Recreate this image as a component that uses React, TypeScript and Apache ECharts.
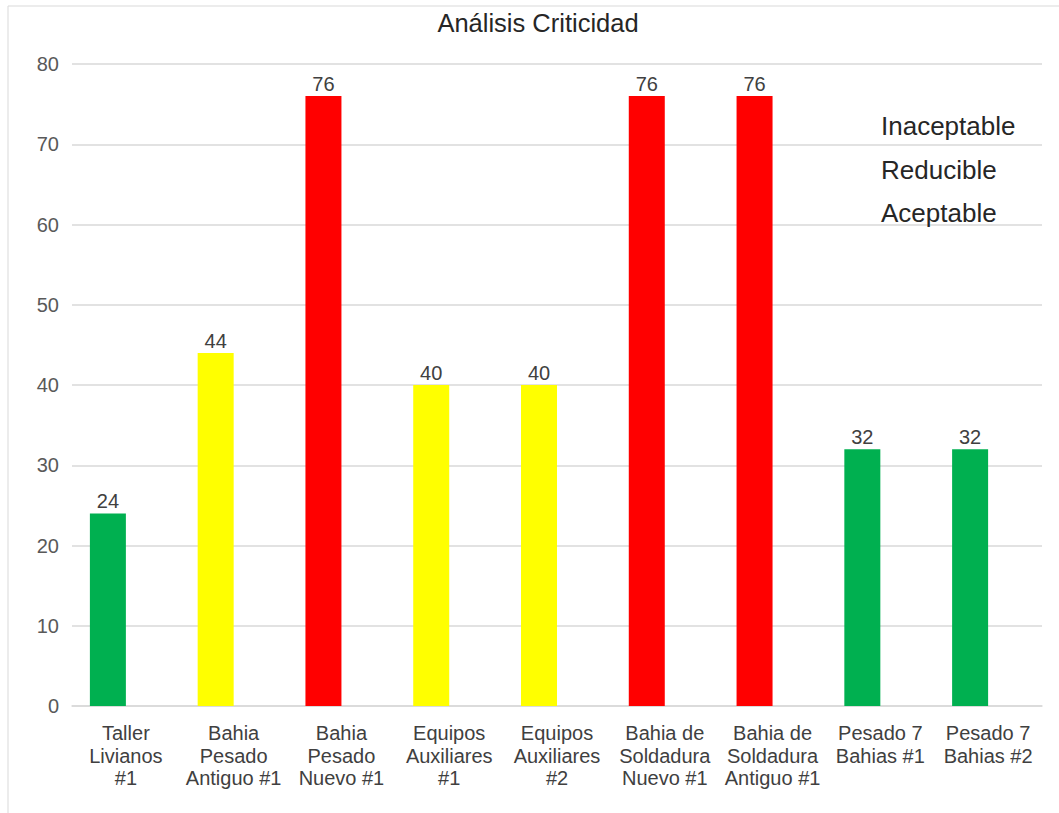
import React, { useEffect, useRef } from "react";
import * as echarts from "echarts";

const categories = [
  "Taller\nLivianos\n#1",
  "Bahia\nPesado\nAntiguo #1",
  "Bahia\nPesado\nNuevo #1",
  "Equipos\nAuxiliares\n#1",
  "Equipos\nAuxiliares\n#2",
  "Bahia de\nSoldadura\nNuevo #1",
  "Bahia de\nSoldadura\nAntiguo #1",
  "Pesado 7\nBahias #1",
  "Pesado 7\nBahias #2",
];
const values = [24, 44, 76, 40, 40, 76, 76, 32, 32];
const levels = [
  "Aceptable",
  "Reducible",
  "Inaceptable",
  "Reducible",
  "Reducible",
  "Inaceptable",
  "Inaceptable",
  "Aceptable",
  "Aceptable",
];
const legendNames = ["Inaceptable", "Reducible", "Aceptable"];
const levelColors: Record<string, string> = {
  Inaceptable: "#FF0000",
  Reducible: "#FFFF00",
  Aceptable: "#00B050",
};
const yTicks = { min: 0, max: 80, interval: 10 };

const FONT = "'Liberation Sans', Arial, sans-serif";

export default function App() {
  const ref = useRef<HTMLDivElement>(null);
  useEffect(() => {
    if (!ref.current) return;
    const chart = echarts.init(ref.current, null, { renderer: "svg" });
    chart.setOption({
      animation: false,
      backgroundColor: "#ffffff",
      textStyle: { fontFamily: FONT },
      title: {
        text: "Análisis Criticidad",
        left: 538,
        top: 10,
        padding: 0,
        textAlign: "center",
        textStyle: { fontSize: 25.5, fontWeight: "normal", color: "#262626", fontFamily: FONT },
      },
      graphic: [
        {
          type: "rect",
          shape: { x: 8, y: 6, width: 1200, height: 1000 },
          style: { fill: "none", stroke: "#d9d9d9", lineWidth: 1 },
          silent: true,
          z: -10,
        },
      ],
      legend: {
        data: legendNames,
        orient: "vertical",
        left: 876,
        top: 111,
        icon: "none",
        itemWidth: 0,
        itemHeight: 30,
        itemGap: 15.5,
        padding: 0,
        textStyle: { fontSize: 26, color: "#262626", fontFamily: FONT },
        selectedMode: false,
      },
      grid: { left: 72, right: 17, top: 64, bottom: 107, containLabel: false },
      xAxis: {
        type: "category",
        data: categories,
        axisLine: { lineStyle: { color: "#d9d9d9", width: 1.5 } },
        axisTick: { show: false },
        axisLabel: {
          interval: 0,
          margin: 16,
          fontSize: 20,
          lineHeight: 22.5,
          color: "#404040",
          fontFamily: FONT,
        },
      },
      yAxis: {
        type: "value",
        min: yTicks.min,
        max: yTicks.max,
        interval: yTicks.interval,
        axisLine: { show: false },
        axisTick: { show: false },
        splitLine: { lineStyle: { color: "#d9d9d9", width: 1.5 } },
        axisLabel: { fontSize: 20, color: "#595959", margin: 13, fontFamily: FONT },
      },
      series: [
        {
          name: "Valor",
          type: "bar",
          barWidth: 36,
          barGap: "0%",
          data: values.map((v, i) => ({
            value: v,
            itemStyle: { color: levelColors[levels[i]] },
          })),
          label: {
            show: true,
            position: "top",
            distance: 2,
            fontSize: 20,
            color: "#404040",
            fontFamily: FONT,
          },
        },
        {
          name: "Vacío",
          type: "bar",
          barWidth: 36,
          barGap: "0%",
          data: values.map(() => null),
        },
        ...legendNames.map((n) => ({
          name: n,
          type: "line",
          data: [],
          itemStyle: { color: "#ffffff" },
          lineStyle: { color: "#ffffff" },
        })),
      ],
    });
    return () => chart.dispose();
  }, []);
  return (
    <div
      ref={ref}
      style={{ position: "fixed", left: 0, top: 0, width: 1059, height: 813 }}
    />
  );
}
